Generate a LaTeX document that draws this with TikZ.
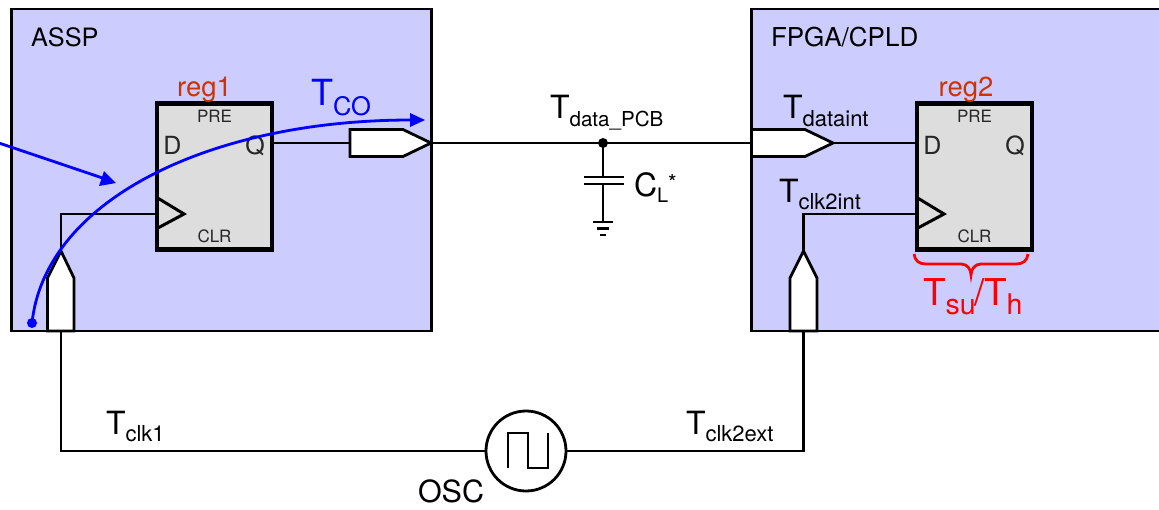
\documentclass[tikz,border=0pt]{standalone}
\usepackage{fontspec}
\setmainfont{TeX Gyre Heros}
\newcommand{\fs}[1]{\fontsize{#1pt}{#1pt}\selectfont}
\newcommand{\TS}[4]{{\fs{#1}T}\raisebox{-#4pt}{\fs{#2}#3}}
\definecolor{chipblue}{HTML}{CCCCFF}
\definecolor{reggray}{HTML}{DDDDDD}
\definecolor{regred}{HTML}{CC3300}
\tikzset{
  chipbox/.style={draw=black,fill=chipblue,line width=2.8pt},
  regbox/.style={draw=black,fill=reggray,line width=4.6pt,minimum width=115pt,minimum height=146pt,inner sep=0pt,outer sep=0pt},
  wire/.style={draw=black,line width=2.8pt,line join=miter},
  portshape/.style={draw=black,fill=white,line width=2.8pt,line join=miter},
  blueline/.style={draw=blue,line width=2.8pt},
  lbl/.style={anchor=base west,inner sep=0pt,outer sep=0pt,text=black},
  clbl/.style={anchor=base,inner sep=0pt,outer sep=0pt},
}
\begin{document}
\begin{tikzpicture}[x=1pt,y=-1pt]
\useasboundingbox (0,0) rectangle (1159,509);
\clip (0,0) rectangle (1159,509);
% chips
\path[chipbox] (11.5,9) rectangle (431.5,331);
\path[chipbox] (751.5,9) rectangle (1170,331);
\node[lbl] (assp) at (31,46) {\fs{25.3}ASSP};
\node[lbl] (fpga) at (771,46) {\fs{26}FPGA/CPLD};
% registers
\node[regbox] (regA) at (214.5,176.5) {};
\node[regbox] (regB) at (974.5,176.5) {};
\node[clbl,text=regred] (regAname) at (204.5,96) {\fs{27.5}reg1};
\node[clbl,text=regred] (regBname) at (966,96) {\fs{27.5}reg2};
\foreach \n/\x in {A/214.5,B/974.5}{
  \node[clbl,text=black!85] (pre\n) at (\x,122.5) {\fs{17}PRE};
  \node[clbl,text=black!85] (clr\n) at (\x,242) {\fs{17}CLR};
  \node[clbl,text=black!85] (d\n) at (\x-42,154) {\fs{25}D};
  \node[clbl,text=black!85] (q\n) at (\x+40.5,154) {\fs{25}Q};
}
% pins
\coordinate (qpinA) at (273,143);
\coordinate (outTail) at (350,143);
\coordinate (outTip) at (431,143);
\coordinate (inTail) at (751.5,143);
\coordinate (inTip) at (833,143);
\coordinate (dpinB) at (916,143);
\coordinate (ckA) at (156,214);
\coordinate (ckB) at (916,214);
\coordinate (clkTipA) at (61,251);
\coordinate (clkTipB) at (803.5,251);
\coordinate (clkBaseA) at (61,331);
\coordinate (clkBaseB) at (803.5,331);
\coordinate (node) at (603,143);
\coordinate (capTop) at (603,177);
\coordinate (capBot) at (603,184);
\coordinate (gnd) at (603,222);
\coordinate (dotStart) at (32,323);
\coordinate (tcoEnd) at (425,120);
\coordinate (arrowFrom) at (-4,142);
\coordinate (arrowTo) at (116,183);
% OSC
\node[draw=black,fill=white,line width=2.8pt,circle,minimum size=80pt,inner sep=0pt,outer sep=0pt] (osc) at (526,451) {};
% wires
\draw[wire] (qpinA) -- (outTail);
\draw[wire] (outTip) -- (inTail);
\draw[wire] (inTip) -- (dpinB);
\draw[wire] (clkTipA) |- (ckA);
\draw[wire] (clkTipB) |- (ckB);
\draw[wire] (clkBaseA) |- (osc.west);
\draw[wire] (clkBaseB) |- (osc.east);
% clock triangles
\draw[wire,line width=3pt,fill=none] (156,197) -- (184,214) -- (156,229);
\draw[wire,line width=3pt,fill=none] (916,197) -- (944,214) -- (916,229);
% ports
\draw[portshape] (350,129.5) -- (403,129.5) -- (outTip) -- (403,156.5) -- (350,156.5) -- cycle;
\draw[portshape] (inTail) ++(0,-13.5) -- (805,129.5) -- (inTip) -- (805,156.5) -- (751.5,156.5) -- cycle;
\draw[portshape] (47.5,331) -- (47.5,278) -- (clkTipA) -- (74,278) -- (74,331) -- cycle;
\draw[portshape] (790,331) -- (790,278) -- (clkTipB) -- (817,278) -- (817,331) -- cycle;
% oscillator waveform
\draw[wire,line join=miter] (508,468) -- (508,433) -- (528,433) -- (528,468) -- (548,468) -- (548,433);
% capacitor and ground
\fill[black] (node) circle (5pt);
\draw[wire] (node) -- (capTop);
\draw[wire] (capBot) -- (gnd);
\draw[wire] (584,177) -- (624,177);
\draw[wire] (584,184) -- (624,184);
\draw[wire] (593,222) -- (613,222);
\draw[wire] (597,228.5) -- (609,228.5);
\draw[wire] (600,235) -- (606,235);
% labels
\node[lbl] (tpcb) at (550,118) {\TS{32}{20.6}{data\_PCB}{8}};
\node[lbl] (tdi) at (783,118) {\TS{32}{22}{dataint}{8}};
\node[lbl] (tci) at (779,202) {\TS{32}{22}{clk2int}{7}};
\node[lbl] (tc1) at (106,434) {\TS{32}{22}{clk1}{7}};
\node[lbl] (tc2) at (686,434) {\TS{32}{22}{clk2ext}{7}};
\node[lbl] (cl) at (634,196) {{\fs{32}C}\raisebox{-6pt}{\fs{20}L}\raisebox{6pt}{\fs{22}*}};
\node[lbl] (osclbl) at (418,502.5) {\fs{30.5}OSC};
\node[lbl,text=blue] (tco) at (311,105) {\TS{36}{25.5}{CO}{10}};
\node[lbl,text=red] (tsu) at (923,305) {\TS{37}{28.5}{su}{9}\hspace{-1pt}{\fs{37}/}\hspace{-1pt}\TS{37}{28.5}{h}{9}};
% brace
\draw[red,line width=2.8pt] (914,254) .. controls (915,261) and (919,264) .. (926,264) -- (961,264) .. controls (967,264) and (971,269) .. (971,275) .. controls (971,269) and (975,264) .. (981,264) -- (1016,264) .. controls (1023,264) and (1027,261) .. (1028,254);
% blue arrows
\draw[blueline] (dotStart) .. controls (45,200) and (210,120) .. (411,120);
\fill[blue] (tcoEnd) -- (410,113) -- (410,127) -- cycle;
\fill[blue] (dotStart) circle (5pt);
\draw[blueline] (arrowFrom) -- (104,178.5);
\fill[blue] (arrowTo) -- (99,186) -- (104,171) -- cycle;
\end{tikzpicture}
\end{document}
